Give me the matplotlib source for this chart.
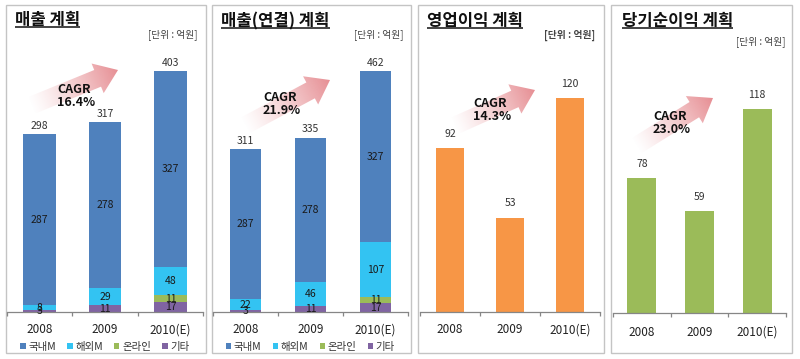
import numpy as np
import matplotlib
matplotlib.use("Agg")
import matplotlib.pyplot as plt
from matplotlib.patches import Rectangle, Polygon

plt.rcParams['font.family'] = ['Noto Sans CJK KR', 'DejaVu Sans']

# data
years = ['2008', '2009', '2010(E)']
legend_labels = ['국내M', '해외M', '온라인', '기타']

sales_domestic = [287, 278, 327]
sales_overseas = [8, 29, 48]
sales_online = [0, 0, 11]
sales_other = [3, 11, 17]
sales_total = [298, 317, 403]

cons_domestic = [287, 278, 327]
cons_overseas = [22, 46, 107]
cons_online = [0, 0, 11]
cons_other = [3, 11, 17]
cons_total = [311, 335, 462]

op_profit = [92, 53, 120]
net_profit = [78, 59, 118]

titles = ['매출 계획', '매출(연결) 계획', '영업이익 계획', '당기순이익 계획']
cagr_labels = ['16.4%', '21.9%', '14.3%', '23.0%']
unit_label = '[단위 : 억원]'

# colours
C_DOM = '#4F81BD'
C_OVS = '#33C3F2'
C_ONL = '#9BBB59'
C_OTH = '#8064A2'
C_OP = '#F79646'
C_NET = '#9BBB59'
AXIS_GRAY = '#868686'

W, H = 800, 359
fig = plt.figure(figsize=(W / 100, H / 100), dpi=100)

# overlay in pixel coordinates for frames, titles and arrows
ov = fig.add_axes([0, 0, 1, 1], zorder=0)
ov.set_xlim(0, W)
ov.set_ylim(H, 0)
ov.axis('off')

# panel layout (pixels)
frames = [(6, 206), (212, 411), (418, 604), (611, 792)]
axes_x = [(7, 203), (213, 408), (420, 600), (613, 786)]
baselines = [312, 312, 312, 313]
ymaxs = [438, 503, 147, 151.4]
bar_widths = [0.5, 0.49, 0.48, 0.5]
title_pos = [(15, 20), (221, 21), (427, 21), (622, 21)]
unit_pos = [(197, 35, 'normal'), (404, 35, 'normal'), (595, 35, 'bold'), (785, 42, 'normal')]
# arrow tail / tip in pixels
arrows = [((30, 106), (118, 70)), ((244, 126), (330, 80)),
          ((454, 126), (535, 90)), ((636, 146), (713, 98))]
cagr_pos = [(57, 96), (263, 104), (473, 110), (653, 123)]
year_pads = [8, 8, 8, 9]


def make_axes(i):
    x0, x1 = axes_x[i]
    base = baselines[i]
    ax = fig.add_axes([x0 / W, (H - base) / H, (x1 - x0) / W, 262 / H], zorder=1)
    ax.patch.set_alpha(0)
    ax.set_xlim(-0.5, 2.5)
    ax.set_ylim(0, ymaxs[i])
    for s in ['top', 'left', 'right']:
        ax.spines[s].set_visible(False)
    ax.spines['bottom'].set_color(AXIS_GRAY)
    ax.spines['bottom'].set_linewidth(0.9)
    ax.set_yticks([])
    ax.set_xticks(range(3))
    ax.set_xticklabels(years, fontsize=8.5, color='#222222')
    ax.set_xticks([-0.5, 0.5, 1.5, 2.5], minor=True)
    ax.tick_params(axis='x', which='major', length=0, pad=year_pads[i])
    ax.tick_params(axis='x', which='minor', length=3, width=0.9, color=AXIS_GRAY, direction='out')
    return ax


def stacked(ax, i, other, online, overseas, domestic, total):
    x = np.arange(3)
    bottom = np.zeros(3)
    handles = []
    for vals, col in [(other, C_OTH), (online, C_ONL), (overseas, C_OVS), (domestic, C_DOM)]:
        vals = np.array(vals, dtype=float)
        b = ax.bar(x, vals, bar_widths[i], bottom=bottom, color=col, edgecolor='none')
        handles.append(b)
        for xi, v, bt in zip(x, vals, bottom):
            if v > 0:
                ax.text(xi, bt + v / 2, f'{int(v)}', ha='center', va='center',
                        fontsize=7.5, color='#1a1a1a')
        bottom = bottom + vals
    for xi, top, t in zip(x, bottom, total):
        ax.text(xi, top + ymaxs[i] * 0.012, f'{t}', ha='center', va='bottom',
                fontsize=7.5, color='#333333')
    # legend order: 국내M, 해외M, 온라인, 기타
    order = [3, 2, 1, 0]
    ax.legend([handles[k] for k in order], legend_labels, loc='center',
              bbox_to_anchor=(0.5, -35 / 262), ncol=4, frameon=False, fontsize=7.5,
              handlelength=0.5, handleheight=0.5, handletextpad=0.25,
              columnspacing=1.1, borderpad=0, labelcolor='#333333')


def simple(ax, i, vals, col):
    x = np.arange(3)
    ax.bar(x, vals, bar_widths[i], color=col, edgecolor='none')
    for xi, v in zip(x, vals):
        ax.text(xi, v + ymaxs[i] * 0.035, f'{v}', ha='center', va='bottom',
                fontsize=7.5, color='#333333')


axs = [make_axes(i) for i in range(4)]
stacked(axs[0], 0, sales_other, sales_online, sales_overseas, sales_domestic, sales_total)
stacked(axs[1], 1, cons_other, cons_online, cons_overseas, cons_domestic, cons_total)
simple(axs[2], 2, op_profit, C_OP)
simple(axs[3], 3, net_profit, C_NET)

# frames
for x0, x1 in frames:
    ov.add_patch(Rectangle((x0, 5), x1 - x0, 348, fill=False, edgecolor='#C4C4C4', lw=1))

# gradient arrows
arrow_rgb = np.array([226, 122, 128]) / 255.0
for (tail, tip) in arrows:
    tx, ty = tail
    px, py = tip
    L = np.hypot(px - tx, py - ty)
    ux, uy = (px - tx) / L, (py - ty) / L
    nx, ny = -uy, ux
    shaft, head, hl = 9, 16, 22
    local = [(0, -shaft), (L - hl, -shaft), (L - hl, -head), (L, 0),
             (L - hl, head), (L - hl, shaft), (0, shaft)]
    pts = [(tx + a * ux + b * nx, ty + a * uy + b * ny) for a, b in local]
    poly = Polygon(pts, closed=True, facecolor='none', edgecolor='none')
    ov.add_patch(poly)
    xs = [p[0] for p in pts]
    ys = [p[1] for p in pts]
    xmin, xmax, ymin, ymax = min(xs) - 2, max(xs) + 2, min(ys) - 2, max(ys) + 2
    gx, gy = np.meshgrid(np.linspace(xmin, xmax, 200), np.linspace(ymin, ymax, 200))
    t = np.clip(((gx - tx) * ux + (gy - ty) * uy) / L, 0, 1)
    rgba = np.zeros(gx.shape + (4,))
    rgba[..., :3] = arrow_rgb
    rgba[..., 3] = 0.85 * t ** 1.2
    im = ov.imshow(rgba, extent=(xmin, xmax, ymax, ymin), origin='upper',
                   aspect='auto', interpolation='bilinear')
    im.set_clip_path(poly)
ov.set_xlim(0, W)
ov.set_ylim(H, 0)

for (cx, cy), lab in zip(cagr_pos, cagr_labels):
    ov.text(cx, cy, 'CAGR\n' + lab, ha='left', va='center', fontsize=9,
            fontweight='bold', color='#111111', linespacing=1.05)

title_texts = []
for (tx, ty), title in zip(title_pos, titles):
    title_texts.append(ov.text(tx, ty, title, ha='left', va='center', fontsize=12,
                               fontweight='bold', color='#111111'))

for ux_, uy_, wt in unit_pos:
    ov.text(ux_, uy_, unit_label, ha='right', va='center', fontsize=7,
            fontweight=wt, color='#444444')

# underline the titles
fig.canvas.draw()
renderer = fig.canvas.get_renderer()
for t in title_texts:
    bb = t.get_window_extent(renderer)
    yline = H - bb.y0 - 2.5
    ov.plot([bb.x0, bb.x1], [yline, yline], color='#111111', lw=1.1, solid_capstyle='butt')

fig.savefig('out.png', dpi=100)
